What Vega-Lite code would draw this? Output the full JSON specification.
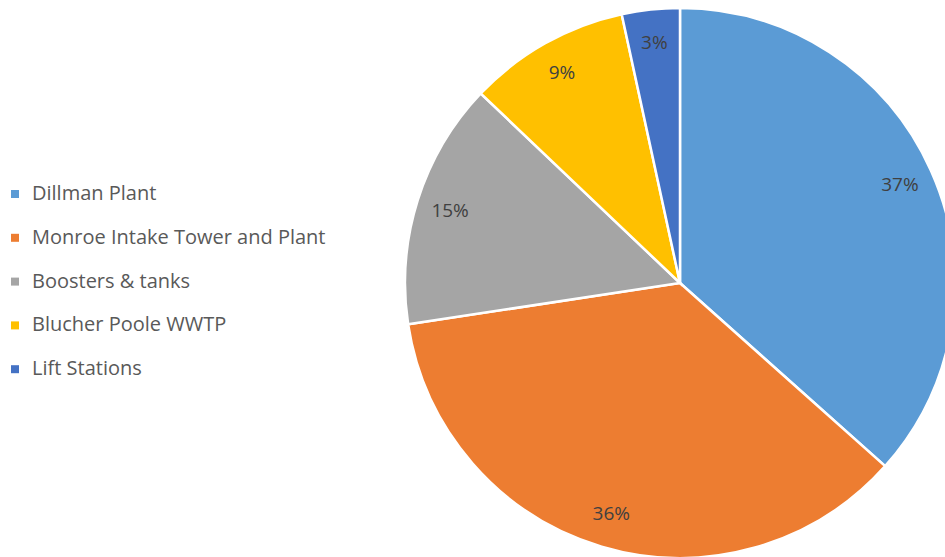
{
  "$schema": "https://vega.github.io/schema/vega-lite/v6.json",
  "width": 945,
  "height": 557,
  "padding": 0,
  "autosize": {"type": "none"},
  "background": "white",
  "view": {"stroke": null},
  "data": {
    "values": [
      {"name": "Dillman Plant", "pct": 36.6, "label": "37%", "order": 1},
      {"name": "Monroe Intake Tower and Plant", "pct": 36.0, "label": "36%", "order": 2},
      {"name": "Boosters & tanks", "pct": 14.5, "label": "15%", "order": 3},
      {"name": "Blucher Poole WWTP", "pct": 9.5, "label": "9%", "order": 4},
      {"name": "Lift Stations", "pct": 3.4, "label": "3%", "order": 5}
    ]
  },
  "encoding": {
    "theta": {"field": "pct", "type": "quantitative", "stack": true},
    "order": {"field": "order", "type": "quantitative"}
  },
  "layer": [
    {
      "mark": {"type": "arc", "x": 680, "y": 283, "outerRadius": 275, "stroke": "white", "strokeWidth": 2.5},
      "encoding": {
        "color": {
          "field": "name",
          "type": "nominal",
          "scale": {
            "domain": ["Dillman Plant", "Monroe Intake Tower and Plant", "Boosters & tanks", "Blucher Poole WWTP", "Lift Stations"],
            "range": ["#5B9BD5", "#ED7D31", "#A5A5A5", "#FFC000", "#4472C4"]
          },
          "legend": {
            "title": null,
            "orient": "none",
            "legendX": 5,
            "legendY": 184,
            "symbolType": "square",
            "symbolSize": 64,
            "symbolStrokeWidth": 0,
            "labelFont": "Open Sans",
            "labelFontSize": 20,
            "labelColor": "#595959",
            "labelOffset": 7,
            "rowPadding": 23.8,
            "labelLimit": 400
          }
        }
      }
    },
    {
      "mark": {"type": "text", "x": 680, "y": 283, "radius": 241, "font": "Open Sans", "fontSize": 19, "fill": "#404040", "align": "center", "baseline": "middle"},
      "encoding": {
        "text": {"field": "label", "type": "nominal"}
      }
    }
  ]
}
